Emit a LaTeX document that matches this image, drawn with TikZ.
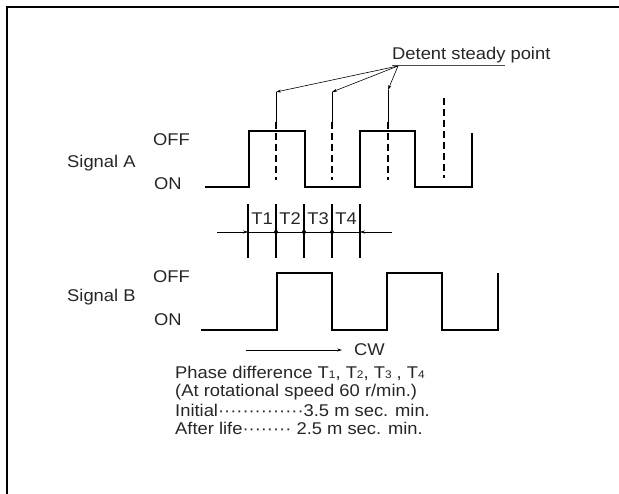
\documentclass[tikz,border=0pt]{standalone}
\usepackage{fontspec}
\setmainfont{Liberation Sans}[FakeStretch=1.08]
\usetikzlibrary{arrows.meta}

\begin{document}
\begin{tikzpicture}[
  x=1pt,y=-1pt,
  lbl/.style={inner sep=0pt,anchor=west,text=black!85,font=\fontsize{17}{20}\selectfont},
  wave/.style={line width=1.6pt,line join=miter},
  leader/.style={line width=0.6pt,-{Stealth[length=5pt,width=3pt]}},
  detent/.style={line width=1.2pt,dash pattern=on 7pt off 4pt},
  tick/.style={line width=1.3pt}
]
  \useasboundingbox (0,0) rectangle (619,494);
  \draw[line width=2pt] (7,494) -- (7,7) -- (619,7);

  \node[lbl] (detent) at (392,55) {Detent steady point};
  \coordinate (dj) at (398,66);
  \draw[line width=0.8pt,black!70] (392,65) -- (505,65);
  \coordinate (d1) at (276,92);
  \coordinate (d2) at (332,92);
  \coordinate (d3) at (388,90);
  \coordinate (d4) at (444,98);
  \draw[leader] (dj) -- (d1);
  \draw[leader] (dj) -- (d2);
  \draw[leader] (dj) -- (d3);
  \draw[line width=0.8pt] (d1) -- (276,122);
  \draw[line width=0.8pt] (d2) -- (332,122);
  \draw[line width=0.8pt] (d3) -- (388,122);
  \draw[detent] (276,122) -- (276,180);
  \draw[detent] (332,122) -- (332,180);
  \draw[detent] (388,122) -- (388,180);
  \draw[detent] (d4) -- (444,178);

  \node[lbl] (offA) at (153,140) {OFF};
  \node[lbl] (sigA) at (67,163) {Signal A};
  \node[lbl] (onA) at (154,184) {ON};
  \draw[wave] (205,187) -- (249,187) -- (249,131) -- (305,131) -- (305,187)
    -- (360,187) -- (360,131) -- (415,131) -- (415,187) -- (472,187) -- (472,133);

  \foreach \x in {248,276,304,332,360}
    \draw[tick] (\x,204) -- (\x,258);
  \coordinate (tl) at (248,232);
  \coordinate (tr) at (360,232);
  \draw[line width=0.8pt] (tl) -- (tr);
  \draw[leader] (217,232) -- (tl);
  \draw[leader] (392,232) -- (tr);
  \foreach \x in {276,304,332}
    \fill (\x,232) circle (2);
  \node[lbl,anchor=center] (t1) at (262,219) {T1};
  \node[lbl,anchor=center] (t2) at (290,219) {T2};
  \node[lbl,anchor=center] (t3) at (318,219) {T3};
  \node[lbl,anchor=center] (t4) at (346,219) {T4};

  \node[lbl] (offB) at (153,277) {OFF};
  \node[lbl] (sigB) at (67,297) {Signal B};
  \node[lbl] (onB) at (154,320) {ON};
  \draw[wave] (201,330) -- (277,330) -- (277,273) -- (332,273) -- (332,330)
    -- (387,330) -- (387,273) -- (442,273) -- (442,330) -- (498,330) -- (498,273);

  \coordinate (cwa) at (246,350);
  \node[lbl] (cw) at (354,350) {CW};
  \draw[leader] (cwa) -- ([xshift=-12pt]cw.west);

  \node[lbl] (phase) at (175,373) {Phase difference T{\fontsize{11}{12}\selectfont 1}, T{\fontsize{11}{12}\selectfont 2}, T{\fontsize{11}{12}\selectfont 3} , T{\fontsize{11}{12}\selectfont 4}};
  \node[lbl] (speed) at (175,392) {(At rotational speed 60 r/min.)};
  \node[lbl] (init) at (175,410) {Initial··············3.5 m sec. min.};
  \node[lbl] (after) at (175,428) {After life········ 2.5 m sec. min.};
\end{tikzpicture}
\end{document}
